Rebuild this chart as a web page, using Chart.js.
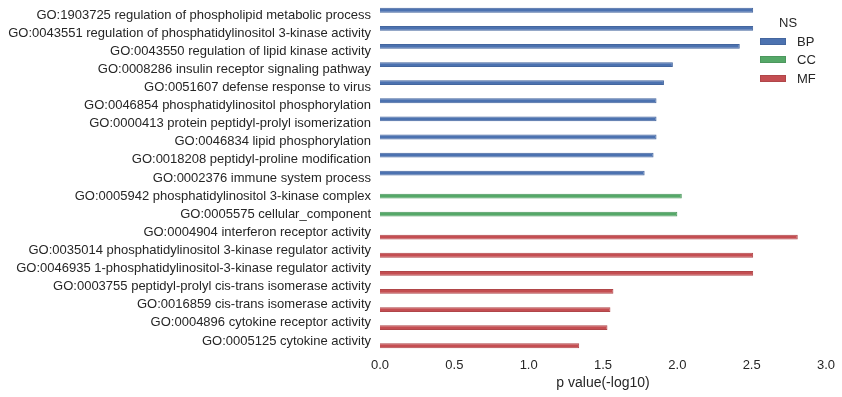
<!DOCTYPE html>
<html>
<head>
<meta charset="utf-8">
<script src="https://cdn.jsdelivr.net/npm/chart.js@4"></script>
<style>
  body { margin: 0; background: #fff; font-family: "Liberation Sans", Arial, sans-serif; }
  #wrap { position: relative; width: 842px; height: 397px; }
  #legend { position: absolute; left: 760px; top: 14px; color: #262626; font-size: 13px; }
  #legend .title { margin-left: 19px; height: 18px; line-height: 18px; }
  #legend .row { display: flex; align-items: center; height: 18.5px; }
  #legend .patch { width: 26px; height: 7px; margin-right: 11px; box-sizing: border-box; border: 1px solid; }
</style>
</head>
<body>
<div id="wrap">
  <canvas id="chart" width="842" height="397"></canvas>
  <div id="legend"></div>
</div>
<script>
// GO terms, top to bottom
const terms = [
    'GO:1903725 regulation of phospholipid metabolic process',
    'GO:0043551 regulation of phosphatidylinositol 3-kinase activity',
    'GO:0043550 regulation of lipid kinase activity',
    'GO:0008286 insulin receptor signaling pathway',
    'GO:0051607 defense response to virus',
    'GO:0046854 phosphatidylinositol phosphorylation',
    'GO:0000413 protein peptidyl-prolyl isomerization',
    'GO:0046834 lipid phosphorylation',
    'GO:0018208 peptidyl-proline modification',
    'GO:0002376 immune system process',
    'GO:0005942 phosphatidylinositol 3-kinase complex',
    'GO:0005575 cellular_component',
    'GO:0004904 interferon receptor activity',
    'GO:0035014 phosphatidylinositol 3-kinase regulator activity',
    'GO:0046935 1-phosphatidylinositol-3-kinase regulator activity',
    'GO:0003755 peptidyl-prolyl cis-trans isomerase activity',
    'GO:0016859 cis-trans isomerase activity',
    'GO:0004896 cytokine receptor activity',
    'GO:0005125 cytokine activity'
];
const termNS = ['BP', 'BP', 'BP', 'BP', 'BP', 'BP', 'BP', 'BP', 'BP', 'BP',
                'CC', 'CC',
                'MF', 'MF', 'MF', 'MF', 'MF', 'MF', 'MF'];
const pValues = [2.51, 2.51, 2.42, 1.97, 1.91, 1.86, 1.86, 1.86, 1.84, 1.78,
                 2.03, 2.00,
                 2.81, 2.51, 2.51, 1.57, 1.55, 1.53, 1.34];
const namespaces = ['BP', 'CC', 'MF'];
const nsColors = { BP: '#4C72B0', CC: '#55A868', MF: '#C44E52' };
const nsEdges = { BP: '#44669e', CC: '#4c975d', MF: '#b04649' };
const xTicks = [0, 0.5, 1.0, 1.5, 2.0, 2.5, 3.0];

const textColor = '#262626';
const font = { family: '"Liberation Sans", Arial, sans-serif', size: 13 };

const datasets = namespaces.map(ns => ({
    label: ns,
    data: pValues.map((v, i) => termNS[i] === ns ? v : null),
    backgroundColor: nsColors[ns],
    borderColor: nsEdges[ns],
    borderWidth: 1,
    categoryPercentage: 0.8,
    barPercentage: 1.0
}));

new Chart(document.getElementById('chart'), {
    type: 'bar',
    data: { labels: terms, datasets: datasets },
    options: {
        indexAxis: 'y',
        responsive: false,
        animation: false,
        layout: { padding: { top: 6, right: 16, left: 0, bottom: 0 } },
        plugins: { legend: { display: false }, tooltip: { enabled: false } },
        scales: {
            x: {
                min: 0, max: 3,
                afterBuildTicks: axis => { axis.ticks = xTicks.map(v => ({ value: v })); },
                afterFit: axis => { axis.height = 47; axis.paddingLeft = 0; axis.paddingRight = 0; },
                grid: { display: false, drawTicks: false },
                border: { display: false },
                ticks: { color: textColor, font: font, padding: 8, callback: v => v.toFixed(1) },
                title: { display: true, text: 'p value(-log10)', color: textColor, font: { ...font, size: 14 }, padding: { top: 2, bottom: 5 } }
            },
            y: {
                afterFit: axis => { axis.width = 380; axis.paddingTop = 0; axis.paddingBottom = 0; },
                grid: { display: false, drawTicks: false },
                border: { display: false },
                ticks: { color: textColor, font: font, padding: 9, autoSkip: false }
            }
        }
    }
});

// legend drawn as html
const legend = document.getElementById('legend');
legend.innerHTML = '<div class="title">NS</div>' + namespaces.map(ns =>
    `<div class="row"><span class="patch" style="background:${nsColors[ns]};border-color:${nsEdges[ns]}"></span>${ns}</div>`
).join('');
</script>
</body>
</html>
